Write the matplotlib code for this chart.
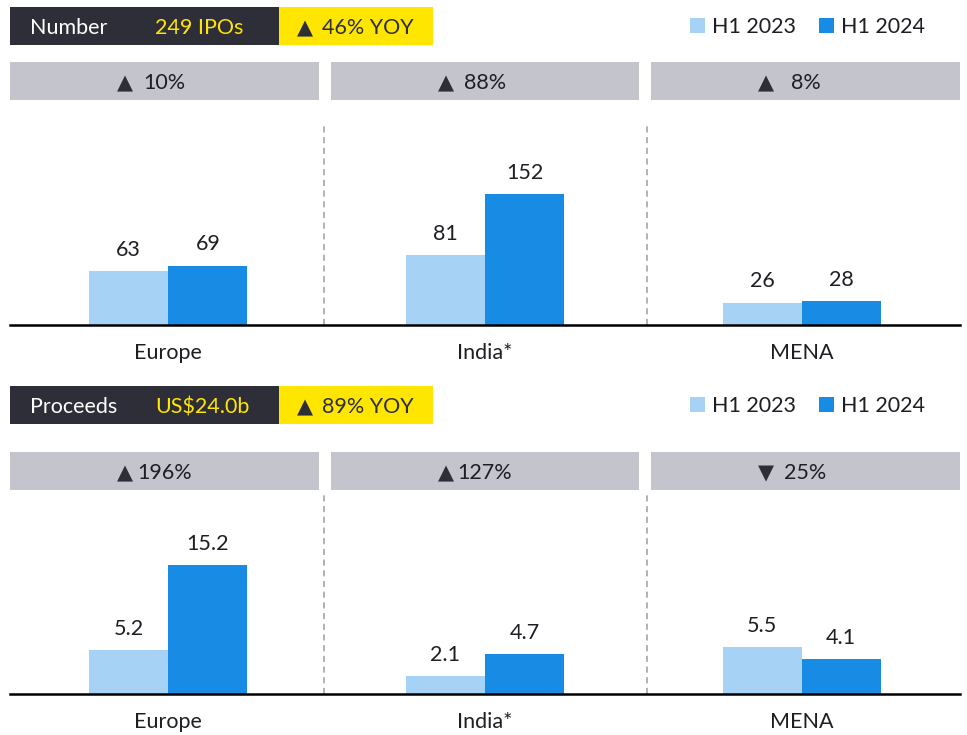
import matplotlib
matplotlib.use('Agg')
import matplotlib.pyplot as plt
from matplotlib.patches import Rectangle

# data
regions = ['Europe', 'India*', 'MENA']
ipo_count_2023 = [63, 81, 26]
ipo_count_2024 = [69, 152, 28]
ipo_count_change = [10, 88, 8]
proceeds_2023 = [5.2, 2.1, 5.5]
proceeds_2024 = [15.2, 4.7, 4.1]
proceeds_change = [196, 127, -25]
number_total = '249 IPOs'
number_yoy = 46
proceeds_total = 'US$24.0b'
proceeds_yoy = 89
series_names = ['H1 2023', 'H1 2024']

# style
DARK = '#2e2e38'
YELLOW = '#ffe600'
GREY_BOX = '#c4c4cd'
LIGHT_BLUE = '#a6d3f5'
BLUE = '#188ce5'
TEXT = '#1e1e24'
FONT = ['Lato', 'DejaVu Sans']
FS = 15.5

plt.rcParams['font.family'] = FONT

W, H = 967, 735
fig = plt.figure(figsize=(W / 100, H / 100), dpi=100)


def box(x0, y0, x1, y1, color):
    # pixel coords (top-left origin) -> figure rectangle
    fig.add_artist(Rectangle((x0 / W, 1 - y1 / H), (x1 - x0) / W, (y1 - y0) / H,
                             transform=fig.transFigure, facecolor=color,
                             edgecolor='none', zorder=0))


def ftext(x, y, s, **kw):
    kw.setdefault('fontsize', FS)
    kw.setdefault('va', 'center')
    kw.setdefault('color', TEXT)
    fig.text(x / W, 1 - y / H, s, **kw)


def arrow(v):
    return '\u25B2' if v >= 0 else '\u25BC'


def section(top, title, total, yoy, v23, v24, changes, ymax, fmt):
    # header strip
    box(10, top, 279, top + 38, DARK)
    box(279, top, 433, top + 38, YELLOW)
    ty = top + 21
    ftext(30, ty, title, color='white')
    ftext(155, ty, total, color=YELLOW)
    ftext(297, ty, arrow(yoy), color=DARK, ha='left', fontsize=15)
    ftext(322, ty, f'{yoy}% YOY', color=DARK, ha='left')

    # change boxes
    gtop = top + 55 if top < 100 else top + 66
    for i, (x0, x1) in enumerate([(10, 319), (331, 639), (651, 960)]):
        box(x0, gtop, x1, gtop + 38, GREY_BOX)
        ftext(x0 + 107, gtop + 21, arrow(changes[i]), color=DARK, ha='left', fontsize=15)
        ftext((x0 + x1) / 2, gtop + 21, f'{abs(changes[i])}%', ha='center')

    # bars
    base = gtop + 263 if top < 100 else gtop + 242
    axtop = gtop + 60 if top < 100 else gtop + 43
    ax = fig.add_axes([10 / W, 1 - base / H, 950 / W, (base - axtop) / H])
    x = list(range(len(regions)))
    w = 0.25
    b1 = ax.bar([i - w / 2 for i in x], v23, width=w, color=LIGHT_BLUE, label=series_names[0])
    b2 = ax.bar([i + w / 2 for i in x], v24, width=w, color=BLUE, label=series_names[1])
    ax.bar_label(b1, fmt=fmt, padding=8, fontsize=FS, color=TEXT)
    ax.bar_label(b2, fmt=fmt, padding=8, fontsize=FS, color=TEXT)
    ax.set_xlim(-0.5, 2.5)
    ax.set_ylim(0, ymax)
    for sx in (0.49, 1.51):
        ax.axvline(sx, color='#9c9ca4', lw=1.1, ls=(0, (4, 3)))
    for s in ('top', 'left', 'right'):
        ax.spines[s].set_visible(False)
    ax.spines['bottom'].set_linewidth(1.8)
    ax.spines['bottom'].set_color('black')
    ax.set_yticks([])
    ax.set_xticks(x, regions)
    ax.tick_params(axis='x', length=0, pad=13, labelsize=FS, labelcolor=TEXT)
    ax.patch.set_alpha(0)

    fig.legend(handles=[b1, b2], loc='center left',
               bbox_to_anchor=(690 / W, 1 - (top + 20) / H),
               ncol=2, frameon=False, handlelength=0.7,
               handleheight=0.7, handletextpad=0.3, columnspacing=1.1,
               borderpad=0, borderaxespad=0,
               prop={'size': FS}, labelcolor=TEXT)


section(7, 'Number', number_total, number_yoy, ipo_count_2023, ipo_count_2024,
        ipo_count_change, 235.5, '%d')
section(386, 'Proceeds', proceeds_total, proceeds_yoy, proceeds_2023, proceeds_2024,
        proceeds_change, 23.4, '%.1f')

fig.savefig('out.png', dpi=100)
